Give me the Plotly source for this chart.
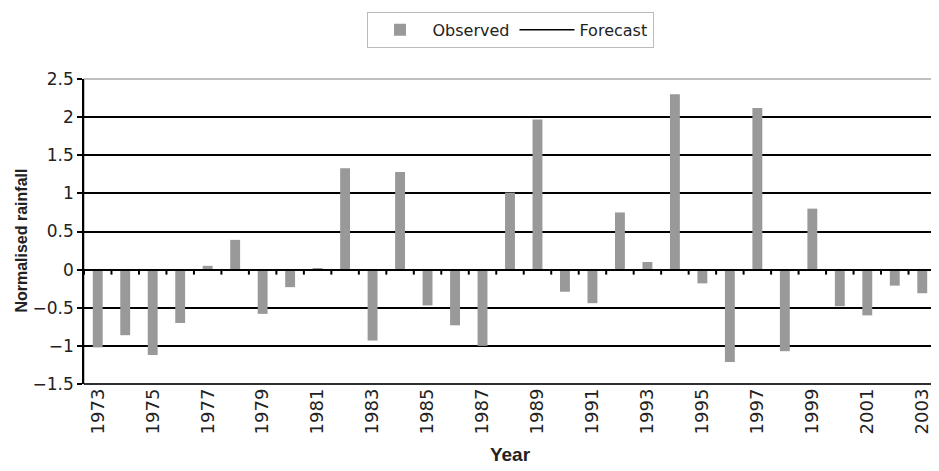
import plotly.graph_objects as go

years = [str(y) for y in range(1973, 2004)]
observed = [-1.02, -0.86, -1.12, -0.70, 0.05, 0.39, -0.58, -0.23, 0.02, 1.33,
            -0.93, 1.28, -0.47, -0.73, -1.00, 1.01, 1.97, -0.29, -0.44, 0.75,
            0.10, 2.30, -0.18, -1.21, 2.12, -1.07, 0.80, -0.48, -0.60, -0.21,
            -0.31]
forecast = [None] * len(years)

yrange = [-1.5, 2.5]
zero_pos = (0 - yrange[0]) / (yrange[1] - yrange[0])

font = "DejaVu Sans, sans-serif"
bold_font = "Liberation Sans, Arial, sans-serif"

fig = go.Figure()
fig.add_trace(go.Bar(x=years, y=observed, name="Observed",
                     marker=dict(color="#999999", line=dict(width=0)),
                     xaxis="x", yaxis="y"))
fig.add_trace(go.Scatter(x=years, y=forecast, name="Forecast", mode="lines",
                         line=dict(color="black", width=1.5),
                         xaxis="x2", yaxis="y"))

# category-boundary tick marks hanging below the zero line
n = len(years)
boundaries = [i - 0.5 for i in range(n + 1)]
tick_len = 5 / 76.25  # ~5px in data units
fig.add_trace(go.Scatter(x=boundaries, y=[0] * len(boundaries), mode="markers",
                         marker=dict(size=0.1, color="black", opacity=0),
                         error_y=dict(type="data", symmetric=False,
                                      array=[0] * len(boundaries),
                                      arrayminus=[tick_len] * len(boundaries),
                                      color="black", thickness=2, width=0),
                         showlegend=False, hoverinfo="skip",
                         xaxis="x3", yaxis="y"))

# page has an 8px body margin, so the figure is 8px smaller than the window
fig.update_layout(
    width=931, height=463,
    margin=dict(l=76, r=3, t=71, b=87, autoexpand=False),
    plot_bgcolor="white", paper_bgcolor="white",
    bargap=0.64,
    font=dict(family=font, size=16, color="#222222"),
    showlegend=True,
    legend=dict(orientation="h", x=0.5, xanchor="center", y=1.22, yanchor="top",
                bordercolor="#bbbbbb", borderwidth=1, itemwidth=55,
                font=dict(size=16, color="#222222")),
    xaxis=dict(type="category", categoryorder="array", categoryarray=years,
               anchor="y", side="bottom", automargin=False,
               showline=False, ticks="", showgrid=False, zeroline=False,
               dtick=2, tickangle=-90,
               tickfont=dict(size=18, color="#222222"),
               title=dict(text="<b>Year</b>", standoff=14,
                          font=dict(family=bold_font, size=19, color="#222222"))),
    xaxis2=dict(type="category", categoryorder="array", categoryarray=years,
                overlaying="x", matches="x", anchor="free", position=zero_pos,
                side="bottom", automargin=False, layer="above traces",
                showline=True, linecolor="black", linewidth=1.5,
                ticks="", showticklabels=False,
                showgrid=False, zeroline=False),
    xaxis3=dict(type="linear", overlaying="x", range=[-0.5, n - 0.5],
                visible=False, automargin=False, showgrid=False, zeroline=False),
    yaxis=dict(range=yrange, dtick=0.5, tick0=0, automargin=False,
               showline=True, linecolor="black", linewidth=1.5,
               ticks="outside", ticklen=5, tickwidth=1.5, tickcolor="black",
               showgrid=True, gridcolor="black", gridwidth=1.5,
               zeroline=False,
               tickfont=dict(size=17, color="#222222")),
)

fig.add_annotation(text="<b>Normalised rainfall</b>", xref="paper", yref="paper",
                   x=-0.0728, y=0.47, xanchor="center", yanchor="middle",
                   textangle=-90, showarrow=False,
                   font=dict(family=bold_font, size=16, color="#222222"))

fig.add_shape(type="rect", xref="paper", yref="paper", x0=0, x1=1, y0=0, y1=1,
              line=dict(color="#aaaaaa", width=1.5), layer="below")
fig.add_shape(type="line", xref="paper", yref="paper", x0=0, x1=1, y0=0, y1=0,
              line=dict(color="black", width=1.5), layer="below")

fig.write_html("out.html")
